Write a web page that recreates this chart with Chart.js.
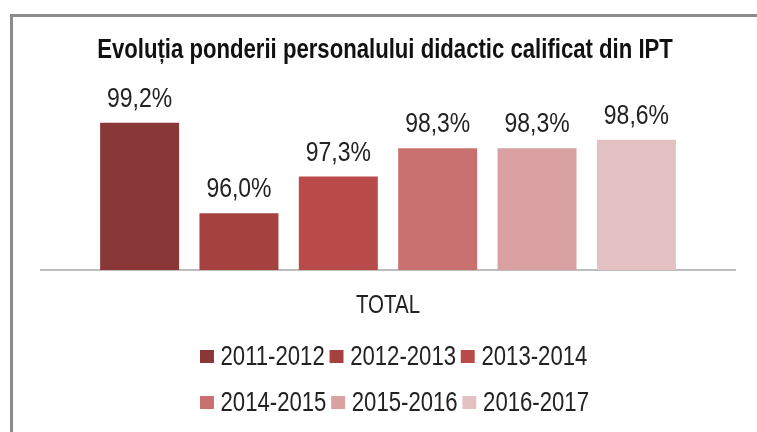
<!DOCTYPE html>
<html>
<head>
<meta charset="utf-8">
<script src="https://cdn.jsdelivr.net/npm/chart.js@4/dist/chart.umd.min.js"></script>
<style>
  html, body { margin: 0; padding: 0; background: #fff; overflow: hidden; }
  #wrap { position: relative; width: 757px; height: 432px; }
  #frame { position: absolute; left: 10px; top: 14px; width: 900px; height: 600px;
           border: 3px solid #8c8c8c; box-sizing: border-box; pointer-events: none; }
  /* text in the reference is narrow, so the legend is squeezed horizontally */
  #legend { position: absolute; left: 200px; top: 343px; width: 520px;
            transform: scaleX(0.82); transform-origin: 0 0;
            display: flex; flex-wrap: wrap; row-gap: 19px; column-gap: 6px;
            font-family: 'Liberation Sans', Arial, sans-serif;
            font-size: 27px; line-height: 27px; color: #222; }
  #legend .item { display: flex; align-items: center; }
  #legend .box { width: 17px; height: 13px; margin-right: 8px; }
</style>
</head>
<body>
<div id="wrap">
  <canvas id="chart" width="757" height="432"></canvas>
  <div id="frame"></div>
  <div id="legend"></div>
</div>
<script>
const chartTitle = 'Evoluția ponderii personalului didactic calificat din IPT';
const categories = ['TOTAL'];
const seriesNames = ['2011-2012', '2012-2013', '2013-2014', '2014-2015', '2015-2016', '2016-2017'];
const seriesValues = [99.2, 96.0, 97.3, 98.3, 98.3, 98.6];
const seriesColors = ['#8a3837', '#a54240', '#b94c4a', '#c97070', '#d9a1a1', '#e3c1c2'];

const FONT = "'Liberation Sans', Arial, sans-serif";
const SQUEEZE = 0.82;

function squeezedText(ctx, txt, x, y) {
    ctx.save();
    ctx.translate(x, y);
    ctx.scale(SQUEEZE, 1);
    ctx.fillText(txt, 0, 0);
    ctx.restore();
}

// title, category label and value labels, drawn narrow like the reference
const narrowText = {
    id: 'narrowText',
    afterDatasetsDraw(chart) {
        const ctx = chart.ctx;
        const area = chart.chartArea;
        const xs = chart.scales.x;
        ctx.save();
        ctx.textAlign = 'center';
        ctx.textBaseline = 'alphabetic';

        ctx.fillStyle = '#111';
        ctx.font = 'bold 27px ' + FONT;
        squeezedText(ctx, chartTitle, (area.left + area.right) / 2 - 3, 58);

        ctx.fillStyle = '#222';
        ctx.font = '25px ' + FONT;
        categories.forEach((c, i) => {
            squeezedText(ctx, c, xs.getPixelForValue(i), area.bottom + 43);
        });

        ctx.font = '28px ' + FONT;
        chart.data.datasets.forEach((ds, i) => {
            chart.getDatasetMeta(i).data.forEach((bar, j) => {
                const txt = ds.data[j].toFixed(1).replace('.', ',') + '%';
                squeezedText(ctx, txt, bar.x, bar.y - 16);
            });
        });
        ctx.restore();
    }
};

const ctx = document.getElementById('chart').getContext('2d');
const chart = new Chart(ctx, {
    type: 'bar',
    data: {
        labels: categories,
        datasets: seriesNames.map((name, i) => ({
            label: name,
            data: [seriesValues[i]],
            backgroundColor: seriesColors[i],
            borderWidth: 0
        }))
    },
    options: {
        responsive: false,
        animation: false,
        categoryPercentage: 0.859,
        barPercentage: 0.795,
        layout: { padding: { left: 41, right: 22, top: 100, bottom: 154 } },
        plugins: {
            legend: { display: false },
            tooltip: { enabled: false },
            title: { display: false }
        },
        scales: {
            x: {
                grid: { display: false },
                border: { display: true, color: '#bdbdbd', width: 2 },
                ticks: { display: false }
            },
            y: {
                display: false,
                min: 94,
                max: 100
            }
        }
    },
    plugins: [narrowText]
});

// legend in two rows, built from the same series arrays
const legend = document.getElementById('legend');
seriesNames.forEach((name, i) => {
    const item = document.createElement('div');
    item.className = 'item';
    const box = document.createElement('span');
    box.className = 'box';
    box.style.background = seriesColors[i];
    const label = document.createElement('span');
    label.textContent = name;
    item.appendChild(box);
    item.appendChild(label);
    legend.appendChild(item);
});
</script>
</body>
</html>
